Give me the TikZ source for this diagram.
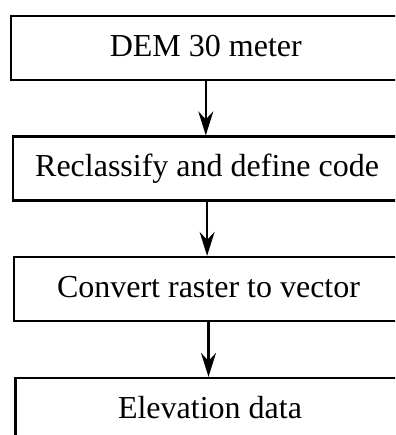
\documentclass[tikz,border=0pt]{standalone}
\usepackage{fontspec}
\setmainfont{Liberation Serif}
\usetikzlibrary{arrows.meta}
\begin{document}
\begin{tikzpicture}[x=1pt,y=-1pt,
  stepbox/.style={draw,line width=2.2pt,rectangle,inner sep=0pt,
    minimum width=389pt,minimum height=64pt,
    text height=22pt,text depth=5pt,
    font=\fontsize{32}{36}\selectfont},
  flow/.style={line width=2.2pt,-{Stealth[length=24pt,width=15pt,inset=8pt]}}]
  \clip (0,0) rectangle (395,435);
  \node[stepbox] (dem)  at (205.8,48)  {DEM 30 meter};
  \node[stepbox] (recl) at (207.1,168.5) {Reclassify and define code};
  \node[stepbox] (conv) at (208.5,289) {Convert raster to vector};
  \node[stepbox] (elev) at (210,410) {Elevation data};
  \draw[flow] (dem.south)  -- (dem.south |- recl.north);
  \draw[flow] (recl.south) -- (recl.south |- conv.north);
  \draw[flow] (conv.south) -- (conv.south |- elev.north);
\end{tikzpicture}
\end{document}
